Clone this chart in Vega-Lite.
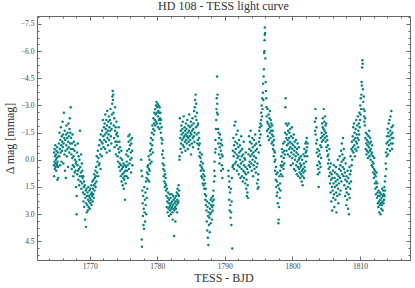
{
"$schema":"https://vega.github.io/schema/vega-lite/v6.json",
"width":373,"height":244,
"autosize":"none",
"padding":{"left":37,"top":16,"right":5,"bottom":28},
"background":"white",
"title":{"text":"HD 108 - TESS light curve","font":"Liberation Serif","fontSize":12,"fontWeight":"normal","color":"#333333","offset":3,"anchor":"middle"},
"config":{"view":{"stroke":null},"axis":{"grid":false,"domainColor":"#666666","tickColor":"#666666","labelColor":"#444444","labelFont":"Liberation Serif","labelFontSize":7.5,"titleFont":"Liberation Serif","titleFontSize":12,"titleFontWeight":"normal","titleColor":"#333333"}},
"data":{"values":[
{"t":1764.70,"m":0.3},{"t":1764.72,"m":-0.4},{"t":1764.74,"m":0.9},{"t":1764.78,"m":0.1},{"t":1764.80,"m":-0.6},{"t":1764.83,"m":0.5},{"t":1764.86,"m":-0.2},{"t":1764.89,"m":0.2},{"t":1764.92,"m":-0.8},{"t":1764.95,"m":0.4},{"t":1764.98,"m":0.0},{"t":1765.01,"m":-0.3},{"t":1765.04,"m":0.6},{"t":1765.07,"m":-0.5},{"t":1765.10,"m":0.2},{"t":1765.13,"m":-0.1},{"t":1765.16,"m":0.3},{"t":1765.19,"m":-0.7},{"t":1765.22,"m":1.1},{"t":1765.25,"m":0.1},{"t":1765.28,"m":-0.4},{"t":1765.31,"m":0.4},{"t":1765.34,"m":1.0},{"t":1765.37,"m":-0.2},
{"t":1765.45,"m":-0.9},{"t":1765.50,"m":-0.2},{"t":1765.54,"m":-1.5},{"t":1765.58,"m":-0.6},{"t":1765.62,"m":0.3},{"t":1765.66,"m":-1.1},{"t":1765.70,"m":-0.4},{"t":1765.74,"m":-1.8},{"t":1765.78,"m":-0.8},{"t":1765.82,"m":0.1},{"t":1765.86,"m":-1.3},{"t":1765.90,"m":-0.5},{"t":1765.94,"m":-1.0},{"t":1765.98,"m":-2.1},{"t":1766.02,"m":-0.7},{"t":1766.06,"m":-1.4},{"t":1766.10,"m":0.2},{"t":1766.14,"m":-0.9},{"t":1766.18,"m":-2.6},{"t":1766.22,"m":-1.2},
{"t":1766.26,"m":-0.3},{"t":1766.30,"m":-1.6},{"t":1766.34,"m":0.6},{"t":1766.38,"m":-1.1},{"t":1766.42,"m":-0.5},{"t":1766.46,"m":1.0},{"t":1766.50,"m":-1.4},{"t":1766.54,"m":-0.8},{"t":1766.58,"m":-1.9},{"t":1766.62,"m":-0.2},{"t":1766.66,"m":-1.2},{"t":1766.70,"m":-0.6},{"t":1766.74,"m":-1.5},{"t":1766.78,"m":0.4},{"t":1766.82,"m":-1.0},{"t":1766.86,"m":-2.0},{"t":1766.90,"m":-0.7},{"t":1766.94,"m":-1.3},{"t":1766.98,"m":-0.4},{"t":1767.02,"m":-1.7},{"t":1767.06,"m":-2.3},{"t":1767.10,"m":-0.9},{"t":1767.14,"m":-1.5},{"t":1767.18,"m":-2.9},{"t":1767.22,"m":-0.6},
{"t":1767.26,"m":-1.2},{"t":1767.30,"m":-0.3},{"t":1767.34,"m":0.5},{"t":1767.38,"m":-0.9},{"t":1767.42,"m":-0.1},{"t":1767.46,"m":-1.4},{"t":1767.50,"m":0.3},{"t":1767.54,"m":-0.6},{"t":1767.58,"m":0.9},{"t":1767.62,"m":-0.2},{"t":1767.66,"m":-1.0},{"t":1767.70,"m":0.4},{"t":1767.74,"m":-0.5},{"t":1767.78,"m":0.7},{"t":1767.82,"m":0.0},{"t":1767.86,"m":-0.8},{"t":1767.90,"m":0.6},{"t":1767.94,"m":0.2},
{"t":1767.98,"m":1.5},{"t":1768.02,"m":0.1},{"t":1768.06,"m":3.0},{"t":1768.08,"m":2.0},{"t":1768.12,"m":-0.4},{"t":1768.16,"m":0.8},{"t":1768.20,"m":0.3},{"t":1768.24,"m":-0.9},{"t":1768.28,"m":0.6},{"t":1768.32,"m":1.1},{"t":1768.36,"m":-0.2},{"t":1768.40,"m":0.5},{"t":1768.44,"m":1.4},{"t":1768.48,"m":0.0},{"t":1768.52,"m":0.9},{"t":1768.56,"m":-1.6},{"t":1768.60,"m":0.4},{"t":1768.64,"m":1.2},{"t":1768.68,"m":0.7},{"t":1768.72,"m":-0.3},{"t":1768.76,"m":1.6},{"t":1768.80,"m":0.9},{"t":1768.84,"m":0.2},{"t":1768.88,"m":1.3},{"t":1768.92,"m":0.6},
{"t":1768.96,"m":1.0},{"t":1769.00,"m":1.8},{"t":1769.04,"m":0.9},{"t":1769.08,"m":2.3},{"t":1769.12,"m":1.5},{"t":1769.16,"m":1.2},{"t":1769.20,"m":2.6},{"t":1769.24,"m":1.9},{"t":1769.28,"m":1.4},{"t":1769.32,"m":3.3},{"t":1769.36,"m":2.1},{"t":1769.40,"m":1.7},{"t":1769.44,"m":3.7},{"t":1769.48,"m":2.4},{"t":1769.52,"m":1.6},{"t":1769.56,"m":2.9},{"t":1769.60,"m":2.0},{"t":1769.64,"m":2.5},{"t":1769.68,"m":1.8},{"t":1769.72,"m":2.8},{"t":1769.76,"m":2.2},{"t":1769.80,"m":1.5},{"t":1769.84,"m":2.6},{"t":1769.88,"m":2.0},{"t":1769.92,"m":2.3},{"t":1769.96,"m":1.7},{"t":1770.00,"m":2.7},{"t":1770.04,"m":2.1},{"t":1770.08,"m":1.6},{"t":1770.12,"m":2.4},{"t":1770.16,"m":1.9},{"t":1770.20,"m":2.2},{"t":1770.24,"m":1.4},{"t":1770.28,"m":2.5},{"t":1770.32,"m":1.8},{"t":1770.36,"m":2.0},{"t":1770.40,"m":1.2},{"t":1770.44,"m":2.3},{"t":1770.48,"m":1.6},{"t":1770.52,"m":1.9},{"t":1770.56,"m":1.1},{"t":1770.60,"m":2.1},{"t":1770.64,"m":1.4},{"t":1770.68,"m":0.8},{"t":1770.72,"m":1.7},{"t":1770.76,"m":1.0},{"t":1770.80,"m":1.3},{"t":1770.84,"m":0.6},{"t":1770.88,"m":1.5},{"t":1770.92,"m":0.9},
{"t":1770.96,"m":0.4},{"t":1771.00,"m":1.2},{"t":1771.05,"m":-0.2},{"t":1771.10,"m":0.7},{"t":1771.15,"m":0.1},{"t":1771.20,"m":-0.5},{"t":1771.25,"m":0.9},{"t":1771.30,"m":-0.1},{"t":1771.35,"m":0.3},{"t":1771.40,"m":-0.8},{"t":1771.45,"m":0.2},{"t":1771.50,"m":-1.1},{"t":1771.55,"m":-0.3},{"t":1771.60,"m":0.5},{"t":1771.65,"m":-1.4},{"t":1771.70,"m":-0.6},{"t":1771.75,"m":-1.0},{"t":1771.80,"m":-0.2},{"t":1771.85,"m":-1.6},{"t":1771.90,"m":-0.9},{"t":1771.95,"m":-2.2},{"t":1772.00,"m":-1.3},{"t":1772.05,"m":-0.7},{"t":1772.10,"m":-1.8},{"t":1772.15,"m":-1.1},
{"t":1772.20,"m":-2.0},{"t":1772.24,"m":-1.4},{"t":1772.28,"m":-0.6},{"t":1772.32,"m":-2.5},{"t":1772.36,"m":-1.7},{"t":1772.40,"m":-1.0},{"t":1772.44,"m":-2.2},{"t":1772.48,"m":-1.5},{"t":1772.52,"m":-0.4},{"t":1772.56,"m":-1.9},{"t":1772.60,"m":-2.7},{"t":1772.64,"m":-1.2},{"t":1772.68,"m":-1.6},{"t":1772.72,"m":-0.8},{"t":1772.76,"m":-2.1},{"t":1772.80,"m":-1.4},{"t":1772.84,"m":-2.4},{"t":1772.88,"m":-1.1},{"t":1772.92,"m":-1.8},{"t":1772.96,"m":-0.5},{"t":1773.00,"m":-2.2},{"t":1773.04,"m":-1.6},{"t":1773.08,"m":-2.8},{"t":1773.12,"m":-1.3},{"t":1773.16,"m":-2.0},{"t":1773.20,"m":-0.9},{"t":1773.24,"m":-1.7},{"t":1773.28,"m":-2.5},{"t":1773.32,"m":-3.1},{"t":1773.36,"m":-3.5},{"t":1773.40,"m":-3.8},{"t":1773.44,"m":-3.3},{"t":1773.48,"m":-3.6},{"t":1773.52,"m":-2.6},{"t":1773.56,"m":-1.9},{"t":1773.60,"m":-1.2},{"t":1773.64,"m":-2.3},{"t":1773.68,"m":-0.7},{"t":1773.72,"m":-1.6},{"t":1773.76,"m":-2.9},{"t":1773.80,"m":-1.0},{"t":1773.84,"m":-1.8},{"t":1773.88,"m":-0.3},{"t":1773.92,"m":-1.4},{"t":1773.96,"m":-2.1},{"t":1774.00,"m":-0.8},{"t":1774.04,"m":-1.5},
{"t":1774.08,"m":-1.0},{"t":1774.12,"m":-0.2},{"t":1774.16,"m":-1.3},{"t":1774.20,"m":0.1},{"t":1774.24,"m":-0.6},{"t":1774.28,"m":-1.8},{"t":1774.32,"m":0.4},{"t":1774.36,"m":-0.4},{"t":1774.40,"m":-1.0},{"t":1774.44,"m":0.2},{"t":1774.48,"m":-0.7},{"t":1774.52,"m":0.6},{"t":1774.56,"m":-0.1},{"t":1774.60,"m":0.9},{"t":1774.64,"m":0.3},{"t":1774.68,"m":-0.5},{"t":1774.72,"m":1.2},{"t":1774.76,"m":0.5},{"t":1774.80,"m":0.0},{"t":1774.84,"m":0.8},{"t":1774.88,"m":1.4},{"t":1774.92,"m":0.4},{"t":1774.96,"m":1.0},{"t":1775.00,"m":0.2},{"t":1775.04,"m":1.6},{"t":1775.08,"m":0.7},{"t":1775.12,"m":1.1},{"t":1775.16,"m":0.3},{"t":1775.20,"m":0.9},{"t":1775.24,"m":2.2},{"t":1775.28,"m":0.6},{"t":1775.32,"m":1.3},
{"t":1775.36,"m":0.4},{"t":1775.40,"m":-0.3},{"t":1775.44,"m":0.9},{"t":1775.48,"m":0.1},{"t":1775.52,"m":0.6},{"t":1775.56,"m":-0.5},{"t":1775.60,"m":0.3},{"t":1775.64,"m":1.0},{"t":1775.68,"m":-0.2},{"t":1775.72,"m":-1.3},{"t":1775.76,"m":-1.0},{"t":1775.80,"m":0.5},{"t":1775.84,"m":-0.6},{"t":1775.88,"m":0.2},{"t":1775.92,"m":-1.4},{"t":1775.96,"m":-0.8},{"t":1776.00,"m":0.0},{"t":1776.04,"m":-1.1},{"t":1776.08,"m":-0.4},{"t":1776.12,"m":0.7},{"t":1776.16,"m":-0.9},{"t":1776.20,"m":-0.1},{"t":1776.24,"m":-1.2},{"t":1776.28,"m":-0.5},{"t":1776.32,"m":0.3},
{"t":1777.62,"m":0.0},{"t":1777.66,"m":0.6},{"t":1777.70,"m":4.4},{"t":1777.72,"m":4.8},{"t":1777.76,"m":0.9},{"t":1777.80,"m":1.7},{"t":1777.84,"m":2.4},{"t":1777.88,"m":3.1},{"t":1777.92,"m":2.0},{"t":1777.96,"m":3.6},{"t":1778.00,"m":2.7},{"t":1778.04,"m":3.8},{"t":1778.08,"m":1.5},{"t":1778.12,"m":2.9},{"t":1778.16,"m":2.2},{"t":1778.20,"m":3.4},{"t":1778.24,"m":1.8},{"t":1778.28,"m":2.5},{"t":1778.32,"m":1.2},{"t":1778.36,"m":3.0},{"t":1778.40,"m":1.0},{"t":1778.44,"m":2.1},{"t":1778.48,"m":0.7},{"t":1778.52,"m":1.6},{"t":1778.56,"m":0.4},
{"t":1778.60,"m":1.1},{"t":1778.64,"m":0.3},{"t":1778.68,"m":0.8},{"t":1778.72,"m":-0.2},{"t":1778.76,"m":0.5},{"t":1778.80,"m":1.2},{"t":1778.84,"m":0.0},{"t":1778.88,"m":0.6},{"t":1778.92,"m":-0.5},{"t":1778.96,"m":0.2},{"t":1779.00,"m":-0.9},{"t":1779.04,"m":-0.3},{"t":1779.08,"m":-1.2},{"t":1779.12,"m":-0.6},{"t":1779.16,"m":0.1},{"t":1779.20,"m":-1.5},{"t":1779.24,"m":-0.8},{"t":1779.28,"m":-1.9},{"t":1779.32,"m":-1.1},{"t":1779.36,"m":-0.4},{"t":1779.40,"m":-1.7},{"t":1779.44,"m":-2.3},{"t":1779.48,"m":-1.4},{"t":1779.52,"m":-2.0},{"t":1779.56,"m":-2.6},{"t":1779.60,"m":-1.6},{"t":1779.64,"m":-2.2},{"t":1779.68,"m":-2.8},{"t":1779.72,"m":-1.9},{"t":1779.76,"m":-2.5},{"t":1779.80,"m":-3.0},{"t":1779.84,"m":-2.1},
{"t":1779.88,"m":-3.2},{"t":1779.92,"m":-2.6},{"t":1779.96,"m":-2.0},{"t":1780.00,"m":-2.9},{"t":1780.04,"m":-3.1},{"t":1780.08,"m":-2.4},{"t":1780.12,"m":-1.8},{"t":1780.16,"m":-2.7},{"t":1780.20,"m":-3.0},{"t":1780.24,"m":-2.2},{"t":1780.28,"m":-2.6},{"t":1780.32,"m":-1.7},{"t":1780.36,"m":-2.9},{"t":1780.40,"m":-2.3},{"t":1780.44,"m":-2.0},{"t":1780.48,"m":-2.6},{"t":1780.52,"m":-1.5},{"t":1780.56,"m":-2.2},{"t":1780.60,"m":-1.2},{"t":1780.64,"m":-1.8},
{"t":1780.68,"m":-0.9},{"t":1780.72,"m":-0.3},{"t":1780.76,"m":-1.1},{"t":1780.80,"m":0.2},{"t":1780.84,"m":-0.5},{"t":1780.88,"m":0.5},{"t":1780.92,"m":-0.1},{"t":1780.96,"m":0.9},{"t":1781.00,"m":0.3},{"t":1781.04,"m":1.2},{"t":1781.08,"m":0.6},{"t":1781.12,"m":1.5},{"t":1781.16,"m":0.8},{"t":1781.20,"m":1.3},{"t":1781.24,"m":1.0},{"t":1781.28,"m":1.7},{"t":1781.32,"m":1.4},
{"t":1781.36,"m":2.0},{"t":1781.40,"m":2.6},{"t":1781.44,"m":1.6},{"t":1781.48,"m":2.3},{"t":1781.52,"m":2.9},{"t":1781.56,"m":2.1},{"t":1781.60,"m":1.8},{"t":1781.64,"m":2.7},{"t":1781.68,"m":2.4},{"t":1781.72,"m":3.1},{"t":1781.76,"m":2.2},{"t":1781.80,"m":2.6},{"t":1781.84,"m":1.9},{"t":1781.88,"m":2.8},{"t":1781.92,"m":2.5},{"t":1781.96,"m":2.1},{"t":1782.00,"m":3.0},{"t":1782.04,"m":2.4},{"t":1782.08,"m":2.7},{"t":1782.12,"m":1.9},{"t":1782.16,"m":2.6},{"t":1782.20,"m":2.3},{"t":1782.24,"m":2.9},{"t":1782.28,"m":3.3},{"t":1782.32,"m":2.5},{"t":1782.36,"m":2.0},{"t":1782.40,"m":2.7},{"t":1782.44,"m":2.2},{"t":1782.48,"m":4.2},{"t":1782.52,"m":2.8},{"t":1782.56,"m":2.4},{"t":1782.60,"m":2.1},{"t":1782.64,"m":2.6},{"t":1782.68,"m":3.4},{"t":1782.72,"m":2.3},{"t":1782.76,"m":2.7},{"t":1782.80,"m":2.0},{"t":1782.84,"m":2.5},{"t":1782.88,"m":1.8},{"t":1782.92,"m":2.9},{"t":1782.96,"m":2.2},{"t":1783.00,"m":1.6},{"t":1783.04,"m":2.4},{"t":1783.08,"m":1.9},{"t":1783.12,"m":2.3},{"t":1783.16,"m":1.4},{"t":1783.20,"m":2.0},{"t":1783.24,"m":1.7},
{"t":1783.28,"m":0.0},{"t":1783.32,"m":-0.2},{"t":1783.36,"m":-2.3},{"t":1783.40,"m":-1.2},{"t":1783.44,"m":-0.6},{"t":1783.48,"m":-1.6},{"t":1783.52,"m":-0.9},{"t":1783.56,"m":-1.9},{"t":1783.60,"m":-1.4},{"t":1783.64,"m":-0.4},{"t":1783.68,"m":-1.1},{"t":1783.72,"m":-1.7},{"t":1783.76,"m":-2.1},{"t":1783.80,"m":-0.8},{"t":1783.84,"m":-1.5},{"t":1783.88,"m":-1.2},{"t":1783.92,"m":-2.4},{"t":1783.96,"m":-0.7},{"t":1784.00,"m":-1.3},{"t":1784.04,"m":-1.8},{"t":1784.08,"m":-1.0},{"t":1784.12,"m":-1.6},{"t":1784.16,"m":-0.5},{"t":1784.20,"m":-1.4},{"t":1784.24,"m":-2.0},{"t":1784.28,"m":-1.1},{"t":1784.32,"m":-1.7},{"t":1784.36,"m":-0.9},{"t":1784.40,"m":-1.3},{"t":1784.44,"m":-2.2},{"t":1784.48,"m":-1.5},{"t":1784.52,"m":-0.6},{"t":1784.56,"m":-1.2},{"t":1784.60,"m":-1.9},{"t":1784.64,"m":-1.0},{"t":1784.68,"m":-1.6},{"t":1784.72,"m":-2.5},{"t":1784.76,"m":-1.3},{"t":1784.80,"m":-0.8},{"t":1784.84,"m":-1.8},{"t":1784.88,"m":-1.1},{"t":1784.92,"m":-1.5},{"t":1784.96,"m":-2.1},{"t":1785.00,"m":-0.3},{"t":1785.04,"m":-1.4},{"t":1785.08,"m":-1.9},{"t":1785.12,"m":-0.9},{"t":1785.16,"m":-1.6},{"t":1785.20,"m":-2.3},{"t":1785.24,"m":-1.2},{"t":1785.28,"m":-0.7},{"t":1785.32,"m":-1.7},{"t":1785.36,"m":-2.0},{"t":1785.40,"m":-1.3},{"t":1785.44,"m":-2.7},{"t":1785.48,"m":-1.0},{"t":1785.52,"m":-1.5},{"t":1785.56,"m":-2.9},{"t":1785.60,"m":-3.3},{"t":1785.64,"m":-2.4},{"t":1785.68,"m":-3.6},{"t":1785.72,"m":-1.8},{"t":1785.76,"m":-3.1},{"t":1785.80,"m":-2.2},{"t":1785.84,"m":-1.4},{"t":1785.88,"m":-2.6},{"t":1785.92,"m":-0.9},{"t":1785.96,"m":-1.9},{"t":1786.00,"m":-1.1},{"t":1786.04,"m":-2.0},{"t":1786.08,"m":-0.6},{"t":1786.12,"m":-1.5},{"t":1786.16,"m":-0.8},{"t":1786.20,"m":-1.2},{"t":1786.24,"m":-0.2},{"t":1786.28,"m":-0.9},
{"t":1786.32,"m":-0.4},{"t":1786.36,"m":0.3},{"t":1786.40,"m":-0.1},{"t":1786.44,"m":0.6},{"t":1786.48,"m":0.1},{"t":1786.52,"m":0.9},{"t":1786.56,"m":0.4},{"t":1786.60,"m":-0.3},{"t":1786.64,"m":1.0},{"t":1786.68,"m":0.5},{"t":1786.72,"m":1.3},{"t":1786.76,"m":0.2},{"t":1786.80,"m":0.8},{"t":1786.84,"m":1.4},{"t":1786.88,"m":0.6},{"t":1786.92,"m":1.1},{"t":1786.96,"m":1.6},{"t":1787.00,"m":0.9},{"t":1787.04,"m":1.9},{"t":1787.08,"m":1.3},{"t":1787.12,"m":2.2},{"t":1787.16,"m":1.6},{"t":1787.20,"m":2.5},
{"t":1787.24,"m":2.0},{"t":1787.28,"m":2.8},{"t":1787.32,"m":3.4},{"t":1787.36,"m":2.3},{"t":1787.40,"m":3.9},{"t":1787.44,"m":2.6},{"t":1787.48,"m":4.3},{"t":1787.52,"m":3.1},{"t":1787.56,"m":4.7},{"t":1787.60,"m":2.9},{"t":1787.64,"m":3.6},{"t":1787.68,"m":2.4},{"t":1787.72,"m":3.2},{"t":1787.76,"m":4.0},{"t":1787.80,"m":2.7},{"t":1787.84,"m":3.0},{"t":1787.88,"m":2.2},{"t":1787.92,"m":3.5},{"t":1787.96,"m":2.5},{"t":1788.00,"m":2.9},{"t":1788.04,"m":2.1},{"t":1788.08,"m":3.3},{"t":1788.12,"m":2.6},{"t":1788.16,"m":2.3},{"t":1788.20,"m":2.8},{"t":1788.24,"m":2.0},{"t":1788.28,"m":2.5},{"t":1788.32,"m":1.7},{"t":1788.36,"m":2.2},
{"t":1788.40,"m":1.2},{"t":1788.44,"m":0.6},{"t":1788.48,"m":0.1},{"t":1788.52,"m":0.9},{"t":1788.56,"m":-0.4},{"t":1788.60,"m":-1.1},{"t":1788.64,"m":-0.6},{"t":1788.68,"m":-1.7},{"t":1788.72,"m":-2.2},{"t":1788.76,"m":-2.8},{"t":1788.80,"m":-3.4},{"t":1788.84,"m":-2.6},{"t":1788.86,"m":-4.6},{"t":1788.88,"m":-3.1},{"t":1788.92,"m":-3.6},{"t":1788.96,"m":-2.5},
{"t":1789.00,"m":-1.7},{"t":1789.04,"m":-0.9},{"t":1789.08,"m":-1.5},{"t":1789.12,"m":-0.3},{"t":1789.16,"m":-1.2},{"t":1789.20,"m":0.2},{"t":1789.24,"m":-0.7},{"t":1789.28,"m":-1.4},{"t":1789.32,"m":-0.1},{"t":1789.36,"m":-0.9},{"t":1789.40,"m":-0.5},{"t":1789.44,"m":0.6},{"t":1789.48,"m":-1.1},{"t":1789.52,"m":-0.3},{"t":1789.56,"m":0.3},{"t":1789.60,"m":-0.8},{"t":1789.64,"m":1.0},{"t":1789.68,"m":-0.2},{"t":1789.72,"m":0.5},
{"t":1790.52,"m":0.6},{"t":1790.56,"m":0.9},{"t":1790.60,"m":1.5},{"t":1790.64,"m":2.2},{"t":1790.68,"m":1.2},{"t":1790.72,"m":2.8},{"t":1790.76,"m":1.8},{"t":1790.80,"m":2.5},{"t":1790.84,"m":3.2},{"t":1790.88,"m":1.6},{"t":1790.92,"m":2.9},{"t":1790.96,"m":3.6},{"t":1791.00,"m":2.3},{"t":1791.04,"m":1.0},{"t":1791.10,"m":4.9},{"t":1791.14,"m":0.4},
{"t":1791.18,"m":-0.5},{"t":1791.22,"m":0.3},{"t":1791.26,"m":-1.2},{"t":1791.30,"m":-0.2},{"t":1791.34,"m":0.5},{"t":1791.38,"m":-0.8},{"t":1791.42,"m":-1.9},{"t":1791.46,"m":-0.4},{"t":1791.50,"m":0.2},{"t":1791.54,"m":-1.0},{"t":1791.58,"m":-2.1},{"t":1791.62,"m":-0.6},{"t":1791.66,"m":0.1},{"t":1791.70,"m":-1.4},{"t":1791.74,"m":-0.3},{"t":1791.78,"m":0.6},{"t":1791.82,"m":-0.9},{"t":1791.86,"m":-0.1},{"t":1791.90,"m":-1.6},{"t":1791.94,"m":0.3},{"t":1791.98,"m":-0.7},{"t":1792.02,"m":-0.2},{"t":1792.06,"m":0.8},{"t":1792.10,"m":-1.1},{"t":1792.14,"m":-0.4},{"t":1792.18,"m":0.4},{"t":1792.22,"m":-0.8},{"t":1792.26,"m":0.0},{"t":1792.30,"m":1.0},{"t":1792.34,"m":-0.5},{"t":1792.38,"m":0.2},{"t":1792.42,"m":-1.3},{"t":1792.46,"m":0.5},{"t":1792.50,"m":-0.2},{"t":1792.54,"m":0.9},{"t":1792.58,"m":-0.6},{"t":1792.62,"m":0.1},{"t":1792.66,"m":1.2},{"t":1792.70,"m":-0.3},{"t":1792.74,"m":0.6},{"t":1792.78,"m":-1.0},{"t":1792.82,"m":0.3},{"t":1792.86,"m":1.0},{"t":1792.90,"m":-0.1},{"t":1792.94,"m":0.7},{"t":1792.98,"m":0.0},{"t":1793.02,"m":1.3},{"t":1793.06,"m":0.4},{"t":1793.10,"m":-0.4},{"t":1793.14,"m":0.8},{"t":1793.18,"m":1.6},{"t":1793.22,"m":1.1},{"t":1793.26,"m":2.0},{"t":1793.30,"m":0.5},{"t":1793.34,"m":1.8},{"t":1793.38,"m":1.4},{"t":1793.42,"m":2.1},
{"t":1793.46,"m":0.7},{"t":1793.50,"m":-0.3},{"t":1793.54,"m":0.3},{"t":1793.58,"m":-1.3},{"t":1793.62,"m":-0.6},{"t":1793.66,"m":0.1},{"t":1793.70,"m":-1.0},{"t":1793.74,"m":0.4},{"t":1793.78,"m":-0.2},{"t":1793.82,"m":-1.6},{"t":1793.86,"m":-0.5},{"t":1793.90,"m":0.2},{"t":1793.94,"m":-0.9},{"t":1793.98,"m":0.6},{"t":1794.02,"m":-0.3},{"t":1794.06,"m":-1.2},{"t":1794.10,"m":0.0},{"t":1794.14,"m":-0.7},{"t":1794.18,"m":0.9},{"t":1794.22,"m":-0.4},{"t":1794.26,"m":0.3},{"t":1794.30,"m":-1.1},{"t":1794.34,"m":-0.2},{"t":1794.38,"m":0.5},{"t":1794.42,"m":-0.8},{"t":1794.46,"m":0.1},{"t":1794.50,"m":-1.4},{"t":1794.54,"m":-0.5},{"t":1794.58,"m":0.7},{"t":1794.62,"m":-0.1},{"t":1794.66,"m":-0.9},{"t":1794.70,"m":0.4},{"t":1794.74,"m":-0.6},{"t":1794.78,"m":1.3},{"t":1794.82,"m":0.2},{"t":1794.86,"m":1.6},{"t":1794.90,"m":1.1},{"t":1794.94,"m":0.8},{"t":1794.98,"m":1.5},{"t":1795.02,"m":-0.4},{"t":1795.06,"m":-1.0},{"t":1795.10,"m":-1.6},{"t":1795.14,"m":-1.2},{"t":1795.18,"m":-1.8},{"t":1795.22,"m":-0.8},{"t":1795.26,"m":-2.0},{"t":1795.30,"m":-1.4},
{"t":1795.34,"m":-2.2},{"t":1795.38,"m":-2.6},{"t":1795.42,"m":-1.9},{"t":1795.46,"m":-3.0},{"t":1795.50,"m":-2.4},{"t":1795.54,"m":-3.4},{"t":1795.58,"m":-2.8},{"t":1795.62,"m":-3.7},{"t":1795.66,"m":-4.2},{"t":1795.70,"m":-3.3},{"t":1795.74,"m":-4.6},{"t":1795.78,"m":-5.0},{"t":1795.82,"m":-5.9},{"t":1795.86,"m":-6.0},{"t":1795.88,"m":-6.6},{"t":1795.90,"m":-6.9},{"t":1795.92,"m":-7.3},{"t":1795.96,"m":-7.0},{"t":1796.00,"m":-5.6},{"t":1796.04,"m":-4.3},{"t":1796.08,"m":-3.8},{"t":1796.12,"m":-3.4},{"t":1796.16,"m":-2.9},
{"t":1796.20,"m":-2.4},{"t":1796.24,"m":-1.6},{"t":1796.28,"m":-2.1},{"t":1796.32,"m":-2.8},{"t":1796.36,"m":-1.3},{"t":1796.40,"m":-2.0},{"t":1796.44,"m":-1.7},{"t":1796.48,"m":-2.5},{"t":1796.52,"m":-1.1},{"t":1796.56,"m":-1.9},{"t":1796.60,"m":-2.3},{"t":1796.64,"m":-1.5},{"t":1796.68,"m":-2.7},{"t":1796.72,"m":-1.8},{"t":1796.76,"m":-1.2},{"t":1796.80,"m":-2.2},{"t":1796.84,"m":-1.6},{"t":1796.88,"m":-2.0},{"t":1796.92,"m":-0.9},{"t":1796.96,"m":-1.4},{"t":1797.00,"m":-1.9},{"t":1797.04,"m":-1.0},{"t":1797.08,"m":-1.6},{"t":1797.12,"m":-0.6},{"t":1797.16,"m":-1.3},{"t":1797.20,"m":-0.8},{"t":1797.24,"m":-0.2},{"t":1797.28,"m":-1.1},{"t":1797.32,"m":-0.5},
{"t":1797.36,"m":0.1},{"t":1797.40,"m":-0.4},{"t":1797.44,"m":0.6},{"t":1797.48,"m":0.0},{"t":1797.52,"m":1.1},{"t":1797.56,"m":0.4},{"t":1797.60,"m":1.5},{"t":1797.64,"m":0.8},{"t":1797.68,"m":2.0},{"t":1797.72,"m":1.2},{"t":1797.76,"m":1.8},{"t":1797.80,"m":0.7},{"t":1797.84,"m":2.4},{"t":1797.88,"m":1.4},{"t":1797.92,"m":3.5},{"t":1797.96,"m":3.3},{"t":1798.00,"m":2.6},{"t":1798.04,"m":1.6},{"t":1798.08,"m":0.9},{"t":1798.12,"m":2.1},{"t":1798.16,"m":1.3},{"t":1798.20,"m":0.6},{"t":1798.24,"m":1.7},{"t":1798.28,"m":0.3},
{"t":1798.32,"m":0.8},{"t":1798.36,"m":-0.2},{"t":1798.40,"m":0.4},{"t":1798.44,"m":-0.6},{"t":1798.48,"m":0.1},{"t":1798.52,"m":0.9},{"t":1798.56,"m":-0.4},{"t":1798.60,"m":0.3},{"t":1798.64,"m":-0.9},{"t":1798.68,"m":0.5},{"t":1798.72,"m":-0.1},{"t":1798.76,"m":-0.5},{"t":1798.80,"m":0.2},{"t":1798.84,"m":-1.0},{"t":1798.88,"m":-0.3},{"t":1798.92,"m":-1.5},{"t":1798.96,"m":-2.9},{"t":1799.00,"m":-3.4},{"t":1799.04,"m":-2.0},{"t":1799.08,"m":-1.2},
{"t":1799.12,"m":-0.5},{"t":1799.16,"m":-1.4},{"t":1799.20,"m":-0.8},{"t":1799.24,"m":-1.9},{"t":1799.28,"m":-1.1},{"t":1799.32,"m":-0.3},{"t":1799.36,"m":-1.6},{"t":1799.40,"m":-0.9},{"t":1799.44,"m":-2.0},{"t":1799.48,"m":-1.2},{"t":1799.52,"m":-0.6},{"t":1799.56,"m":-1.5},{"t":1799.60,"m":-0.2},{"t":1799.64,"m":-1.0},{"t":1799.68,"m":-1.7},{"t":1799.72,"m":-0.7},{"t":1799.76,"m":0.3},{"t":1799.80,"m":-1.3},{"t":1799.84,"m":-0.4},{"t":1799.88,"m":-0.9},{"t":1799.92,"m":-1.8},{"t":1799.96,"m":-0.1},{"t":1800.00,"m":-0.6},{"t":1800.04,"m":-1.2},{"t":1800.08,"m":0.2},{"t":1800.12,"m":-0.8},{"t":1800.16,"m":-0.3},{"t":1800.20,"m":-1.4},{"t":1800.24,"m":0.5},{"t":1800.28,"m":-0.5},{"t":1800.32,"m":-1.0},{"t":1800.36,"m":0.0},{"t":1800.40,"m":-0.7},{"t":1800.44,"m":0.6},{"t":1800.48,"m":-0.2},{"t":1800.52,"m":-1.1},{"t":1800.56,"m":0.3},{"t":1800.60,"m":-0.4},{"t":1800.64,"m":0.8},{"t":1800.68,"m":-0.6},{"t":1800.72,"m":0.1},{"t":1800.76,"m":-0.9},{"t":1800.80,"m":0.4},{"t":1800.84,"m":-0.3},{"t":1800.88,"m":0.9},{"t":1800.92,"m":0.0},{"t":1800.96,"m":-0.7},{"t":1801.00,"m":0.5},{"t":1801.04,"m":-0.1},{"t":1801.08,"m":0.7},{"t":1801.12,"m":0.2},{"t":1801.16,"m":1.0},{"t":1801.20,"m":0.4},{"t":1801.24,"m":-0.2},
{"t":1801.28,"m":0.8},{"t":1801.32,"m":0.3},{"t":1801.36,"m":1.2},{"t":1801.40,"m":0.6},{"t":1801.44,"m":0.0},{"t":1801.48,"m":0.9},{"t":1801.52,"m":1.4},{"t":1801.56,"m":0.5},{"t":1801.60,"m":-0.3},{"t":1801.64,"m":0.7},{"t":1801.68,"m":0.2},{"t":1801.72,"m":1.0},{"t":1801.76,"m":-0.6},{"t":1801.80,"m":0.4},{"t":1801.84,"m":-0.2},{"t":1801.88,"m":0.6},{"t":1801.92,"m":-0.9},{"t":1801.96,"m":-0.4},{"t":1802.00,"m":0.1},{"t":1802.04,"m":-1.0},{"t":1802.08,"m":-0.5},{"t":1802.12,"m":-1.2},{"t":1802.16,"m":-0.7},{"t":1802.20,"m":-0.2},{"t":1802.24,"m":-0.9},
{"t":1803.32,"m":-2.1},{"t":1803.36,"m":-1.6},{"t":1803.40,"m":-2.8},{"t":1803.44,"m":-1.4},{"t":1803.48,"m":-2.3},{"t":1803.52,"m":-0.9},{"t":1803.56,"m":-1.8},{"t":1803.60,"m":-0.4},{"t":1803.64,"m":-1.1},{"t":1803.68,"m":0.3},{"t":1803.72,"m":-0.6},{"t":1803.76,"m":0.8},{"t":1803.80,"m":-0.2},{"t":1803.84,"m":0.5},{"t":1803.88,"m":1.5},{"t":1803.92,"m":0.1},{"t":1803.96,"m":-0.5},{"t":1804.00,"m":0.7},{"t":1804.04,"m":-0.3},{"t":1804.08,"m":0.2},{"t":1804.12,"m":-0.8},{"t":1804.16,"m":0.4},{"t":1804.20,"m":-1.2},{"t":1804.24,"m":-0.1},{"t":1804.28,"m":-0.7},
{"t":1804.32,"m":-1.5},{"t":1804.36,"m":-1.0},{"t":1804.40,"m":-2.0},{"t":1804.44,"m":-1.3},{"t":1804.48,"m":-1.8},{"t":1804.52,"m":-2.3},{"t":1804.56,"m":-1.1},{"t":1804.60,"m":-1.7},{"t":1804.64,"m":-2.8},{"t":1804.68,"m":-1.4},{"t":1804.72,"m":-2.1},{"t":1804.76,"m":-1.6},{"t":1804.80,"m":-1.2},{"t":1804.84,"m":-2.4},{"t":1804.88,"m":-1.9},{"t":1804.92,"m":-1.0},{"t":1804.96,"m":-1.5},{"t":1805.00,"m":-2.0},{"t":1805.04,"m":-0.7},{"t":1805.08,"m":-1.3},{"t":1805.12,"m":-0.5},{"t":1805.16,"m":-1.1},{"t":1805.20,"m":-0.2},{"t":1805.24,"m":-0.8},{"t":1805.28,"m":0.2},
{"t":1805.32,"m":-0.3},{"t":1805.36,"m":0.5},{"t":1805.40,"m":0.0},{"t":1805.44,"m":0.9},{"t":1805.48,"m":-0.6},{"t":1805.52,"m":0.4},{"t":1805.56,"m":1.3},{"t":1805.60,"m":0.7},{"t":1805.64,"m":1.8},{"t":1805.68,"m":0.2},{"t":1805.72,"m":1.1},{"t":1805.76,"m":2.3},{"t":1805.80,"m":0.8},{"t":1805.84,"m":1.5},{"t":1805.88,"m":2.8},{"t":1805.92,"m":1.0},
{"t":1805.96,"m":1.7},{"t":1806.00,"m":0.6},{"t":1806.04,"m":2.1},{"t":1806.08,"m":1.3},{"t":1806.12,"m":0.3},{"t":1806.16,"m":1.9},{"t":1806.20,"m":2.6},{"t":1806.24,"m":1.0},{"t":1806.28,"m":1.5},{"t":1806.32,"m":0.7},{"t":1806.36,"m":2.2},{"t":1806.40,"m":1.2},{"t":1806.44,"m":0.4},{"t":1806.48,"m":1.8},{"t":1806.52,"m":2.9},{"t":1806.56,"m":1.4},{"t":1806.60,"m":0.8},{"t":1806.64,"m":2.0},{"t":1806.68,"m":1.1},{"t":1806.72,"m":0.0},{"t":1806.76,"m":1.6},{"t":1806.80,"m":2.4},{"t":1806.84,"m":0.9},{"t":1806.88,"m":1.3},{"t":1806.92,"m":0.5},{"t":1806.96,"m":1.9},{"t":1807.00,"m":-0.2},{"t":1807.04,"m":1.0},{"t":1807.08,"m":0.3},{"t":1807.12,"m":1.7},{"t":1807.16,"m":0.6},{"t":1807.20,"m":-0.5},{"t":1807.24,"m":1.2},{"t":1807.28,"m":0.1},{"t":1807.32,"m":-0.9},{"t":1807.36,"m":0.8},{"t":1807.40,"m":-0.3},{"t":1807.44,"m":0.4},{"t":1807.48,"m":-1.2},{"t":1807.52,"m":0.0},{"t":1807.56,"m":0.9},{"t":1807.60,"m":-0.6},{"t":1807.64,"m":0.5},{"t":1807.68,"m":1.4},{"t":1807.72,"m":-0.1},{"t":1807.76,"m":0.7},{"t":1807.80,"m":2.0},{"t":1807.84,"m":1.1},{"t":1807.88,"m":0.2},{"t":1807.92,"m":1.6},{"t":1807.96,"m":2.5},{"t":1808.00,"m":0.9},{"t":1808.04,"m":1.8},{"t":1808.08,"m":1.2},{"t":1808.12,"m":2.2},{"t":1808.16,"m":0.6},{"t":1808.20,"m":1.5},{"t":1808.24,"m":2.7},{"t":1808.28,"m":1.0},{"t":1808.32,"m":1.9},{"t":1808.36,"m":3.0},{"t":1808.40,"m":1.3},{"t":1808.44,"m":0.4},{"t":1808.48,"m":2.1},{"t":1808.52,"m":0.8},{"t":1808.56,"m":1.6},{"t":1808.60,"m":-0.2},{"t":1808.64,"m":0.6},{"t":1808.68,"m":1.2},{"t":1808.72,"m":-0.6},{"t":1808.76,"m":0.3},{"t":1808.80,"m":-1.0},{"t":1808.84,"m":0.0},{"t":1808.88,"m":-0.5},
{"t":1808.92,"m":-1.3},{"t":1808.96,"m":-0.7},{"t":1809.00,"m":-1.8},{"t":1809.04,"m":-0.4},{"t":1809.08,"m":-1.1},{"t":1809.12,"m":-2.0},{"t":1809.16,"m":-0.8},{"t":1809.20,"m":-1.5},{"t":1809.24,"m":-0.2},{"t":1809.28,"m":-1.2},{"t":1809.32,"m":-0.6},{"t":1809.36,"m":-1.7},{"t":1809.40,"m":-1.0},{"t":1809.44,"m":-2.2},{"t":1809.48,"m":-0.5},{"t":1809.52,"m":-1.4},{"t":1809.56,"m":-0.9},{"t":1809.60,"m":-1.9},{"t":1809.64,"m":-1.2},{"t":1809.68,"m":-2.4},{"t":1809.72,"m":-0.7},{"t":1809.76,"m":-1.6},{"t":1809.80,"m":-1.1},{"t":1809.84,"m":-2.0},{"t":1809.88,"m":-1.4},{"t":1809.92,"m":-2.6},{"t":1809.96,"m":-1.8},{"t":1810.00,"m":-2.2},{"t":1810.04,"m":-3.0},{"t":1810.08,"m":-2.5},{"t":1810.12,"m":-3.4},
{"t":1810.16,"m":-2.8},{"t":1810.20,"m":-3.6},{"t":1810.24,"m":-4.3},{"t":1810.28,"m":-4.1},{"t":1810.32,"m":-5.1},{"t":1810.36,"m":-5.5},{"t":1810.40,"m":-5.3},{"t":1810.44,"m":-3.9},{"t":1810.48,"m":-3.2},{"t":1810.52,"m":-2.8},{"t":1810.56,"m":-3.5},{"t":1810.60,"m":-2.4},{"t":1810.64,"m":-2.1},{"t":1810.68,"m":-2.7},{"t":1810.72,"m":-1.9},{"t":1810.76,"m":-2.3},
{"t":1810.80,"m":-1.2},{"t":1810.84,"m":-0.6},{"t":1810.88,"m":-1.5},{"t":1810.92,"m":-0.9},{"t":1810.96,"m":-0.3},{"t":1811.00,"m":-1.1},{"t":1811.04,"m":-0.5},{"t":1811.08,"m":-1.4},{"t":1811.12,"m":-0.8},{"t":1811.16,"m":-0.1},{"t":1811.20,"m":-1.0},{"t":1811.24,"m":-0.4},{"t":1811.28,"m":-1.3},{"t":1811.32,"m":-0.7},{"t":1811.36,"m":-1.6},{"t":1811.40,"m":-0.2},{"t":1811.44,"m":-0.9},{"t":1811.48,"m":-0.5},{"t":1811.52,"m":-1.2},{"t":1811.56,"m":0.0},{"t":1811.60,"m":-0.6},{"t":1811.64,"m":-1.0},{"t":1811.68,"m":-0.3},{"t":1811.72,"m":0.3},{"t":1811.76,"m":-0.4},{"t":1811.80,"m":-0.8},{"t":1811.84,"m":0.1},
{"t":1811.88,"m":0.4},{"t":1811.92,"m":-0.2},{"t":1811.96,"m":0.7},{"t":1812.00,"m":0.2},{"t":1812.04,"m":1.0},{"t":1812.08,"m":0.5},{"t":1812.12,"m":-0.1},{"t":1812.16,"m":0.8},{"t":1812.20,"m":1.3},{"t":1812.24,"m":0.6},{"t":1812.28,"m":1.6},{"t":1812.32,"m":0.9},{"t":1812.36,"m":1.9},{"t":1812.40,"m":1.2},{"t":1812.44,"m":0.7},{"t":1812.48,"m":1.5},{"t":1812.52,"m":2.1},{"t":1812.56,"m":1.3},{"t":1812.60,"m":1.8},{"t":1812.64,"m":2.4},
{"t":1812.68,"m":2.0},{"t":1812.72,"m":2.6},{"t":1812.76,"m":1.7},{"t":1812.80,"m":2.3},{"t":1812.84,"m":2.9},{"t":1812.88,"m":2.0},{"t":1812.92,"m":2.5},{"t":1812.96,"m":1.8},{"t":1813.00,"m":2.2},{"t":1813.04,"m":3.0},{"t":1813.08,"m":2.4},{"t":1813.12,"m":1.9},{"t":1813.16,"m":2.7},{"t":1813.20,"m":2.1},{"t":1813.24,"m":2.5},{"t":1813.28,"m":1.6},{"t":1813.32,"m":2.3},{"t":1813.36,"m":2.8},{"t":1813.40,"m":2.0},{"t":1813.44,"m":1.7},{"t":1813.48,"m":2.4},{"t":1813.52,"m":1.9},{"t":1813.56,"m":2.2},{"t":1813.60,"m":1.5},{"t":1813.64,"m":2.0},{"t":1813.68,"m":1.2},{"t":1813.72,"m":1.7},
{"t":1813.76,"m":0.9},{"t":1813.80,"m":0.2},{"t":1813.84,"m":-0.4},{"t":1813.88,"m":0.5},{"t":1813.92,"m":-0.9},{"t":1813.96,"m":-0.2},{"t":1814.00,"m":-1.3},{"t":1814.04,"m":-0.6},{"t":1814.08,"m":-1.7},{"t":1814.12,"m":-1.0},{"t":1814.16,"m":-0.3},{"t":1814.20,"m":-1.5},{"t":1814.24,"m":-2.0},{"t":1814.28,"m":-0.8},{"t":1814.32,"m":-1.3},{"t":1814.36,"m":-2.2},{"t":1814.40,"m":-1.1},{"t":1814.44,"m":-0.5},{"t":1814.48,"m":-1.6},{"t":1814.52,"m":-2.4},{"t":1814.56,"m":-0.9},{"t":1814.60,"m":-1.4},{"t":1814.64,"m":-2.7},{"t":1814.68,"m":-1.8},{"t":1814.72,"m":-1.2},{"t":1814.76,"m":-0.6},{"t":1814.80,"m":-1.5},{"t":1814.84,"m":-0.9},{"t":1814.88,"m":-1.9},{"t":1814.92,"m":-1.2}
]},
"layer":[
{"mark":{"type":"circle","size":6,"color":"#008080","opacity":1},
 "encoding":{
  "x":{"field":"t","type":"quantitative","scale":{"domain":[1762.2,1817.4],"nice":false,"zero":false},
       "axis":{"orient":"bottom","values":[1770,1780,1790,1800,1810],"format":"d","tickSize":-4,"labelPadding":6,"title":"TESS - BJD","titlePadding":3}},
  "y":{"field":"m","type":"quantitative","scale":{"domain":[-7.94,5.53],"reverse":true,"nice":false,"zero":false},
       "axis":{"orient":"left","values":[-7.5,-6,-4.5,-3,-1.5,0,1.5,3,4.5],"format":".1f","tickSize":-4,"labelPadding":7,"title":"Δ mag [mmag]","titlePadding":4}}
 }},
{"mark":{"type":"circle","opacity":0},
 "encoding":{
  "x":{"field":"t","type":"quantitative","axis":{"orient":"bottom","values":[1764,1766,1768,1772,1774,1776,1778,1782,1784,1786,1788,1792,1794,1796,1798,1802,1804,1806,1808,1812,1814,1816],"labels":false,"domain":false,"tickSize":-2,"title":null}},
  "y":{"field":"m","type":"quantitative","axis":{"orient":"left","values":[-7.875,-7.125,-6.75,-6.375,-5.625,-5.25,-4.875,-4.125,-3.75,-3.375,-2.625,-2.25,-1.875,-1.125,-0.75,-0.375,0.375,0.75,1.125,1.875,2.25,2.625,3.375,3.75,4.125,4.875,5.25],"labels":false,"domain":false,"tickSize":-2,"title":null}}
 }},
{"mark":{"type":"circle","opacity":0},
 "encoding":{
  "x":{"field":"t","type":"quantitative","axis":{"orient":"top","values":[1770,1780,1790,1800,1810],"labels":false,"tickSize":-4,"title":null}},
  "y":{"field":"m","type":"quantitative","axis":{"orient":"right","values":[-7.5,-6,-4.5,-3,-1.5,0,1.5,3,4.5],"labels":false,"tickSize":-4,"title":null}}
 }},
{"mark":{"type":"circle","opacity":0},
 "encoding":{
  "x":{"field":"t","type":"quantitative","axis":{"orient":"top","values":[1764,1766,1768,1772,1774,1776,1778,1782,1784,1786,1788,1792,1794,1796,1798,1802,1804,1806,1808,1812,1814,1816],"labels":false,"domain":false,"tickSize":-2,"title":null}},
  "y":{"field":"m","type":"quantitative","axis":{"orient":"right","values":[-7.875,-7.125,-6.75,-6.375,-5.625,-5.25,-4.875,-4.125,-3.75,-3.375,-2.625,-2.25,-1.875,-1.125,-0.75,-0.375,0.375,0.75,1.125,1.875,2.25,2.625,3.375,3.75,4.125,4.875,5.25],"labels":false,"domain":false,"tickSize":-2,"title":null}}
 }}
],
"resolve":{"axis":{"x":"independent","y":"independent"}}
}
